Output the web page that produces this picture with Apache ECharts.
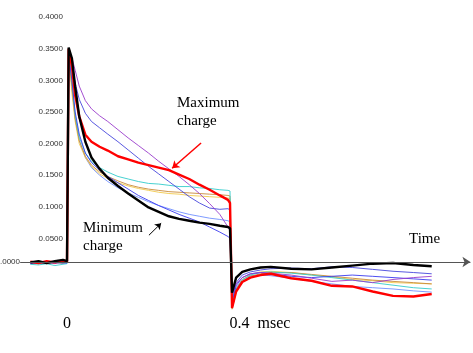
<!DOCTYPE html>
<html>
<head>
<meta charset="utf-8">
<script src="https://cdn.jsdelivr.net/npm/echarts@6/dist/echarts.min.js"></script>
<style>
  html, body { margin: 0; padding: 0; background: #fff; }
  #chart { width: 473px; height: 353px; }
</style>
</head>
<body>
<div id="chart"></div>
<script>
// time in msec
const time = [-0.09, -0.07, -0.05, -0.03, -0.01, 0, 0.004, 0.012, 0.02, 0.03, 0.045, 0.06, 0.08, 0.1,
  0.125, 0.15, 0.175, 0.2, 0.225, 0.25, 0.275, 0.3, 0.325, 0.35, 0.375, 0.395, 0.4, 0.405, 0.415,
  0.43, 0.45, 0.475, 0.5, 0.55, 0.6, 0.65, 0.7, 0.75, 0.8, 0.85, 0.895]

const maxCharge = [0.013, 0.011, 0.014, 0.012, 0.015, 0.013,
  0.350, 0.322, 0.276, 0.243, 0.214, 0.203, 0.195, 0.189, 0.180, 0.175, 0.170, 0.166, 0.162, 0.158, 0.151,
  0.144, 0.135, 0.127, 0.118, 0.111, 0.106,
  -0.060, -0.034, -0.019, -0.012, -0.008, -0.006, -0.013, -0.017, -0.025, -0.026, -0.034, -0.041, -0.042, -0.038]
const minCharge = [0.012, 0.014, 0.011, 0.014, 0.016, 0.014,
  0.352, 0.335, 0.290, 0.243, 0.203, 0.178, 0.160, 0.146, 0.133, 0.121, 0.110, 0.099, 0.092, 0.085, 0.081,
  0.078, 0.075, 0.073, 0.070, 0.068, 0.066,
  -0.036, -0.012, -0.003, 0.001, 0.004, 0.005, 0.002, 0.001, 0.004, 0.007, 0.010, 0.011, 0.008, 0.006]
const purple = [0.011, 0.013, 0.012, 0.010, 0.013, 0.012,
  0.346, 0.336, 0.316, 0.291, 0.268, 0.255, 0.244, 0.235, 0.222, 0.209, 0.197, 0.185, 0.172, 0.160, 0.148,
  0.135, 0.121, 0.105, 0.088, 0.068, 0.062,
  -0.040, -0.022, -0.012, -0.006, -0.004, -0.005, -0.008, -0.013, -0.018, -0.016, -0.020, -0.015, -0.012, -0.010]
const blueA = [0.012, 0.010, 0.013, 0.012, 0.011, 0.012,
  0.345, 0.326, 0.296, 0.270, 0.248, 0.235, 0.225, 0.215, 0.203, 0.190, 0.177, 0.164, 0.152, 0.140, 0.128,
  0.116, 0.106, 0.098, 0.096, 0.097, 0.095,
  -0.048, -0.020, -0.008, -0.003, 0.000, 0.002, 0.003, 0.002, 0.005, 0.004, 0.001, -0.002, -0.004, -0.006]
const blueB = [0.010, 0.012, 0.011, 0.013, 0.012, 0.011,
  0.340, 0.300, 0.250, 0.215, 0.185, 0.170, 0.158, 0.148, 0.138, 0.128, 0.118, 0.110, 0.102, 0.095, 0.088,
  0.082, 0.076, 0.068, 0.060, 0.053, 0.050,
  -0.050, -0.025, -0.012, -0.006, -0.004, -0.006, -0.010, -0.012, -0.010, -0.008, -0.010, -0.012, -0.014, -0.016]
const cyan = [0.009, 0.008, 0.010, 0.007, 0.009, 0.010,
  0.345, 0.300, 0.245, 0.210, 0.185, 0.172, 0.162, 0.155, 0.148, 0.144, 0.140, 0.137, 0.136, 0.134, 0.132,
  0.132, 0.130, 0.129, 0.127, 0.126, 0.125,
  -0.055, -0.030, -0.016, -0.008, -0.004, -0.003, -0.005, -0.008, -0.012, -0.016, -0.020, -0.024, -0.028, -0.030]
const orange = [0.011, 0.012, 0.010, 0.012, 0.011, 0.012,
  0.345, 0.290, 0.240, 0.205, 0.180, 0.166, 0.155, 0.148, 0.141, 0.135, 0.131, 0.128, 0.126, 0.124, 0.123,
  0.122, 0.121, 0.120, 0.119, 0.118, 0.117,
  -0.062, -0.035, -0.018, -0.010, -0.006, -0.004, -0.004, -0.007, -0.010, -0.013, -0.016, -0.018, -0.020, -0.022]
const yellow = [0.012, 0.011, 0.012, 0.011, 0.012, 0.012,
  0.340, 0.280, 0.235, 0.200, 0.178, 0.164, 0.152, 0.145, 0.138, 0.133, 0.129, 0.126, 0.123, 0.121, 0.120,
  0.118, 0.117, 0.116, 0.115, 0.114, 0.113,
  -0.058, -0.030, -0.015, -0.007, -0.003, -0.002, -0.004, -0.008, -0.011, -0.015, -0.017, -0.020, -0.021, -0.022]
const lightBlue = [0.011, 0.012, 0.011, 0.012, 0.011, 0.011,
  0.340, 0.290, 0.240, 0.205, 0.178, 0.162, 0.150, 0.140, 0.130, 0.122, 0.115, 0.108, 0.102, 0.097, 0.092,
  0.088, 0.085, 0.082, 0.080, 0.078, 0.076,
  -0.052, -0.028, -0.015, -0.009, -0.008, -0.009, -0.013, -0.018, -0.022, -0.026, -0.028, -0.030, -0.033, -0.035]

const yTicks = [0, 0.05, 0.1, 0.15, 0.2, 0.25, 0.3, 0.35, 0.4]
const xTicks = ['0', '0.4  msec']

const pairs = (vals) => time.map((t, i) => [t, vals[i]])

const thin = (name, vals, color) => ({
  name,
  type: 'line',
  data: pairs(vals),
  showSymbol: false,
  clip: false,
  lineStyle: { color, width: 0.9 }
})

const chart = echarts.init(document.getElementById('chart'))

const option = {
  animation: false,
  grid: { left: 5.9, right: -1.5, top: 17.2, bottom: 51.4, containLabel: false, outerBoundsMode: 'none' },
  xAxis: {
    type: 'value',
    min: -0.15,
    max: 1.0,
    interval: 0.05,
    axisLine: { show: false, onZero: false },
    axisTick: { show: false },
    splitLine: { show: false },
    axisLabel: {
      margin: 14,
      fontFamily: 'Liberation Serif',
      fontSize: 16,
      color: '#000',
      formatter: (v) => {
        if (Math.abs(v) < 1e-6) return xTicks[0]
        if (Math.abs(v - 0.4) < 1e-6) return '{m|' + xTicks[1] + '}'
        return ''
      },
      rich: { m: { fontFamily: 'Liberation Serif', fontSize: 16, color: '#000', padding: [0, 0, 0, 60] } }
    }
  },
  yAxis: {
    type: 'value',
    min: -0.05,
    max: 0.4,
    interval: 0.05,
    offset: -61.1,
    axisLine: { show: false, onZero: false },
    axisTick: { show: false },
    splitLine: { show: false },
    axisLabel: {
      margin: 4,
      fontFamily: 'Liberation Sans',
      fontSize: 8,
      color: '#333',
      formatter: (v) => {
        const t = yTicks.find((y) => Math.abs(y - v) < 1e-6)
        if (t === undefined) return ''
        if (t === 0) return '{z|0.0000}'
        return t.toFixed(4)
      },
      rich: { z: { fontFamily: 'Liberation Sans', fontSize: 8, color: '#333', padding: [0, 43, 16, 0] } }
    }
  },
  graphic: [
    { type: 'text', x: 177, y: 103, style: { text: 'Maximum', font: '15px Liberation Serif', fill: '#000', verticalAlign: 'middle' } },
    { type: 'text', x: 177, y: 121, style: { text: 'charge', font: '15px Liberation Serif', fill: '#000', verticalAlign: 'middle' } },
    { type: 'text', x: 83, y: 228, style: { text: 'Minimum', font: '15px Liberation Serif', fill: '#000', verticalAlign: 'middle' } },
    { type: 'text', x: 83, y: 246, style: { text: 'charge', font: '15px Liberation Serif', fill: '#000', verticalAlign: 'middle' } },
    { type: 'text', x: 409, y: 239, style: { text: 'Time', font: '15px Liberation Serif', fill: '#000', verticalAlign: 'middle' } }
  ],
  series: [
    {
      ...thin('light blue', lightBlue, '#6f8fff'),
      markLine: {
        silent: true,
        symbol: ['none', 'arrow'],
        symbolSize: 8,
        label: { show: false },
        lineStyle: { color: '#555', width: 1, type: 'solid' },
        data: [[{ coord: [-0.115, 0.0127] }, { coord: [0.99, 0.0127] }]]
      }
    },
    thin('yellow', yellow, '#f2c94c'),
    thin('orange', orange, '#c98a3a'),
    thin('cyan', cyan, '#33cccc'),
    thin('blue B', blueB, '#3a3aee'),
    thin('blue A', blueA, '#4646dd'),
    thin('purple', purple, '#9a3ccc'),
    {
      name: 'Maximum charge',
      type: 'line',
      data: pairs(maxCharge),
      showSymbol: false,
      clip: false,
      lineStyle: { color: '#ff0000', width: 2.4 },
      markLine: {
        silent: true,
        symbol: ['none', 'arrow'],
        symbolSize: 7,
        label: { show: false },
        lineStyle: { color: '#ff0000', width: 1.5, type: 'solid' },
        data: [[{ coord: [0.329, 0.201] }, { coord: [0.258, 0.161] }]]
      }
    },
    {
      name: 'Minimum charge',
      type: 'line',
      data: pairs(minCharge),
      showSymbol: false,
      clip: false,
      lineStyle: { color: '#000', width: 2.4 },
      markLine: {
        silent: true,
        symbol: ['none', 'arrow'],
        symbolSize: 6,
        label: { show: false },
        lineStyle: { color: '#000', width: 1, type: 'solid' },
        data: [[{ coord: [0.201, 0.055] }, { coord: [0.231, 0.074] }]]
      }
    }
  ]
}

chart.setOption(option)
</script>
</body>
</html>
